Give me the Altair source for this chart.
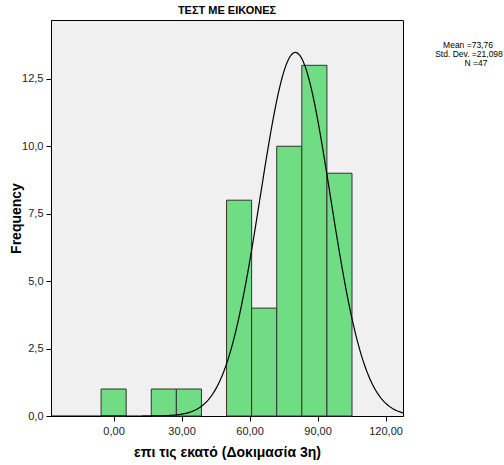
import altair as alt
import pandas as pd
import numpy as np

# Histogram data
bin_starts = [-5.5, 16.64, 27.71, 49.85, 60.92, 71.99, 83.06, 94.13]
bin_width = 11.07
counts = [1, 1, 1, 8, 4, 10, 13, 9]

# Normal curve as drawn (fitted density scaled to counts)
curve_mean = 80.2
curve_sd = 15.4
n_total = 47

stats_lines = ["Mean =73,76", "Std. Dev. =21,098", "N =47"]
stats_x = [417, 418, 425]
stats_y = [25, 34, 43]

x_ticks = [0, 30, 60, 90, 120]
y_ticks = [0, 2.5, 5, 7.5, 10, 12.5]

FONT = "Liberation Sans"

bars = pd.DataFrame({
    "start": bin_starts,
    "end": [s + bin_width for s in bin_starts],
    "count": counts,
    "base": [0] * len(counts),
})

xs = np.linspace(-27.6, 127.7, 400)
ys = n_total * bin_width / (curve_sd * np.sqrt(2 * np.pi)) * np.exp(-0.5 * ((xs - curve_mean) / curve_sd) ** 2)
curve = pd.DataFrame({"x": xs, "y": ys})

stats = pd.DataFrame({"t": stats_lines, "px": stats_x, "py": stats_y})

xscale = alt.Scale(domain=[-27.6, 127.7], nice=False, zero=False)
yscale = alt.Scale(domain=[0, 14.68], nice=False)

xaxis = alt.Axis(values=x_ticks, labelExpr="replace(format(datum.value, '.2f'), '.', ',')",
                 title="επι τις εκατό (Δοκιμασία 3η)", grid=False, tickSize=5,
                 tickColor="black", domainColor="black", labelColor="#222",
                 labelFont=FONT, labelFontSize=11, titleFont=FONT, titleFontSize=14,
                 titleFontWeight="bold", titleColor="black", titlePadding=9, labelPadding=4)
yaxis = alt.Axis(values=y_ticks, labelExpr="replace(format(datum.value, '.1f'), '.', ',')",
                 title="Frequency", grid=False, tickSize=5,
                 tickColor="black", domainColor="black", labelColor="#222",
                 labelFont=FONT, labelFontSize=11, titleFont=FONT, titleFontSize=14,
                 titleFontWeight="bold", titleColor="black", titleX=-28, titleY=198,
                 labelPadding=3)

bar_layer = alt.Chart(bars).mark_rect(fill="#70DC84", stroke="#333333", strokeWidth=1).encode(
    x=alt.X("start:Q", scale=xscale, axis=xaxis),
    x2="end:Q",
    y=alt.Y("count:Q", scale=yscale, axis=yaxis),
    y2="base:Q",
)

line_layer = alt.Chart(curve).mark_line(color="black", strokeWidth=1.2, clip=True).encode(
    x=alt.X("x:Q", scale=xscale),
    y=alt.Y("y:Q", scale=yscale),
)

text_layer = alt.Chart(stats).mark_text(font=FONT, fontSize=8.5, color="black", align="center").encode(
    x=alt.X("px:Q", scale=None),
    y=alt.Y("py:Q", scale=None),
    text="t:N",
)

chart = alt.layer(bar_layer, line_layer, text_layer).properties(
    width=352,
    height=396,
    title=alt.Title("ΤΕΣΤ ΜΕ ΕΙΚΟΝΕΣ", font=FONT, fontSize=11, fontWeight="bold",
                    color="black", anchor="middle", offset=4),
    autosize=alt.AutoSizeParams(type="none"),
    padding={"left": 51, "top": 20, "right": 101, "bottom": 49},
).configure(background="white", view=alt.ViewConfig(fill="#F0F0F0", stroke="black", strokeWidth=1))

chart.save("out.html", embed_options={"renderer": "svg", "actions": False})
